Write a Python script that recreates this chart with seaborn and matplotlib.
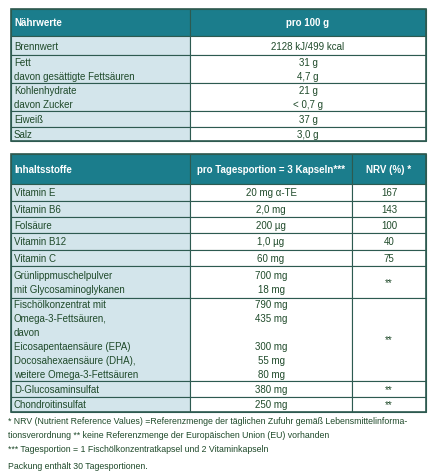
import matplotlib
matplotlib.use("Agg")
import matplotlib.pyplot as plt
import seaborn as sns
from matplotlib.patches import Rectangle

sns.set_theme(style="white")
plt.rcParams['font.family'] = ['Liberation Sans', 'DejaVu Sans']

# ---- data ----
t1_header = ["Nährwerte", "pro 100 g"]
t1_labels = [["Brennwert"], ["Fett", "davon gesättigte Fettsäuren"],
             ["Kohlenhydrate", "davon Zucker"], ["Eiweiß"], ["Salz"]]
t1_values = [["2128 kJ/499 kcal"], ["31 g", "4,7 g"], ["21 g", "< 0,7 g"], ["37 g"], ["3,0 g"]]

t2_header = ["Inhaltsstoffe", "pro Tagesportion = 3 Kapseln***", "NRV (%) *"]
t2_labels = [["Vitamin E"], ["Vitamin B6"], ["Folsäure"], ["Vitamin B12"], ["Vitamin C"],
             ["Grünlippmuschelpulver", "mit Glycosaminoglykanen"],
             ["Fischölkonzentrat mit", "Omega-3-Fettsäuren,", "davon", "Eicosapentaensäure (EPA)",
              "Docosahexaensäure (DHA),", "weitere Omega-3-Fettsäuren"],
             ["D-Glucosaminsulfat"], ["Chondroitinsulfat"]]
t2_values = [["20 mg α-TE"], ["2,0 mg"], ["200 µg"], ["1,0 µg"], ["60 mg"],
             ["700 mg", "18 mg"],
             ["790 mg", "435 mg", "", "300 mg", "55 mg", "80 mg"],
             ["380 mg"], ["250 mg"]]
t2_nrv = ["167", "143", "100", "40", "75", "**", "**", "**", "**"]

footnotes = ["* NRV (Nutrient Reference Values) =Referenzmenge der täglichen Zufuhr gemäß Lebensmittelinforma-",
             "tionsverordnung ** keine Referenzmenge der Europäischen Union (EU) vorhanden",
             "*** Tagesportion = 1 Fischölkonzentratkapsel und 2 Vitaminkapseln",
             "Packung enthält 30 Tagesportionen."]

# ---- layout ----
TEAL = "#1b7d8c"; LIGHT = "#d3e5eb"; EDGE = "#2d5a50"; TXT = "#1f4a2a"
FS = 7.0
LH = 14

fig = plt.figure(figsize=(4.29, 4.77), dpi=100)
ax = fig.add_axes([0, 0, 1, 1])
ax.set_xlim(0, 429); ax.set_ylim(477, 0); ax.axis("off")

def rect(x0, y0, x1, y1, fc):
    ax.add_patch(Rectangle((x0, y0), x1 - x0, y1 - y0, facecolor=fc, edgecolor=EDGE, lw=0.8))

def lines(x, ytop, ybot, items, ha, color=TXT, bold=False, fs=FS):
    n = len(items)
    yc = (ytop + ybot) / 2
    for i, s in enumerate(items):
        y = yc + (i - (n - 1) / 2) * LH
        ax.text(x, y, s, ha=ha, va="center", fontsize=fs, color=color,
                fontweight="bold" if bold else "normal")

# Table 1
L, R = 11, 426
c1 = 190
t1_y = [10, 37, 56, 84, 112, 128, 142]
rect(L, t1_y[0], c1, t1_y[1], TEAL); rect(c1, t1_y[0], R, t1_y[1], TEAL)
lines(L + 3, t1_y[0], t1_y[1], [t1_header[0]], "left", "white", True)
lines((c1 + R) / 2, t1_y[0], t1_y[1], [t1_header[1]], "center", "white", True)
for i, (lab, val) in enumerate(zip(t1_labels, t1_values)):
    a, b = t1_y[i + 1], t1_y[i + 2]
    rect(L, a, c1, b, LIGHT); rect(c1, a, R, b, "white")
    lines(L + 3, a, b, lab, "left"); lines((c1 + R) / 2, a, b, val, "center")
ax.add_patch(Rectangle((L, t1_y[0]), R - L, t1_y[-1] - t1_y[0], fill=False, edgecolor=EDGE, lw=1.2))

# Table 2
c2 = 352
t2_y = [155, 185, 202, 218, 234, 251, 267, 299, 382, 398, 413]
for x0, x1 in [(L, c1), (c1, c2), (c2, R)]:
    rect(x0, t2_y[0], x1, t2_y[1], TEAL)
lines(L + 3, t2_y[0], t2_y[1], [t2_header[0]], "left", "white", True)
lines((c1 + c2) / 2, t2_y[0], t2_y[1], [t2_header[1]], "center", "white", True)
lines((c2 + R) / 2, t2_y[0], t2_y[1], [t2_header[2]], "center", "white", True)
for i, (lab, val, nrv) in enumerate(zip(t2_labels, t2_values, t2_nrv)):
    a, b = t2_y[i + 1], t2_y[i + 2]
    rect(L, a, c1, b, LIGHT); rect(c1, a, c2, b, "white"); rect(c2, a, R, b, "white")
    lines(L + 3, a, b, lab, "left"); lines((c1 + c2) / 2, a, b, val, "center")
    lines((c2 + R) / 2, a, b, [nrv], "center")
ax.add_patch(Rectangle((L, t2_y[0]), R - L, t2_y[-1] - t2_y[0], fill=False, edgecolor=EDGE, lw=1.2))

for s, y in zip(footnotes, [422, 436, 450, 467]):
    ax.text(L - 3, y, s, ha="left", va="center", fontsize=6.3, color=TXT)

fig.savefig("out.png", dpi=100)
